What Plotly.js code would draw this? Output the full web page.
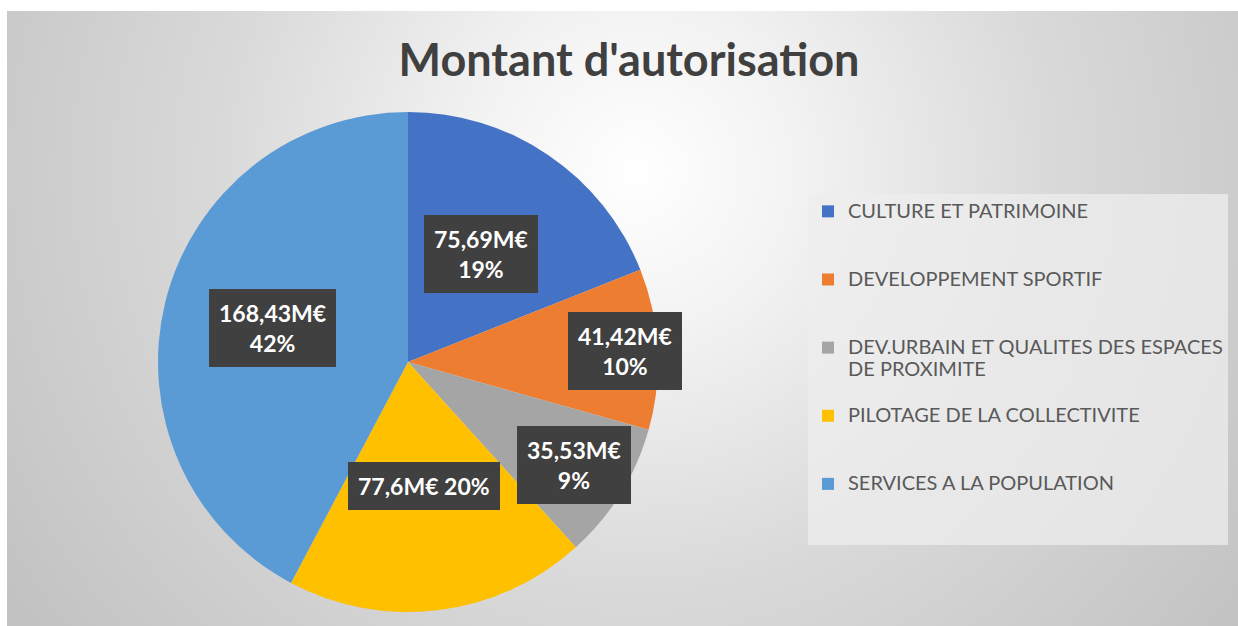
<!DOCTYPE html>
<html>
<head>
<meta charset="utf-8">
<script src="https://cdn.plot.ly/plotly-3.0.1.min.js"></script>
<style>html,body{margin:0;padding:0;background:#fff;}#chart{width:1238px;height:626px;}</style>
</head>
<body>
<div id="chart"></div>
<script>
// ---- data ----
const categories = [
  "CULTURE ET PATRIMOINE",
  "DEVELOPPEMENT SPORTIF",
  "DEV.URBAIN ET QUALITES DES ESPACES<br>DE PROXIMITE",
  "PILOTAGE DE LA COLLECTIVITE",
  "SERVICES A LA POPULATION"
];
const amounts = [75.69, 41.42, 35.53, 77.6, 168.43];   // M€
const percents = [19, 10, 9, 20, 42];                   // as printed
const labelSeparators = ["<br>", "<br>", "<br>", " ", "<br>"];

// ---- style ----
const colors = ["#4472C4", "#ED7D31", "#A5A5A5", "#FFC000", "#5B9BD5"];
const labelRadius = [0.52, 0.87, 0.78, 0.50, 0.56];
const W = 1238, H = 626;
const pieCx = 408, pieCy = 362, pieR = 250;

const total = amounts.reduce((a, b) => a + b, 0);

// legend labels: one span per line, padded to three lines for spacing
const legendLabels = categories.map(c => {
  const lines = c.split("<br>").map(l => '<span style="font-size:20px">' + l + '</span>');
  while (lines.length < 3) lines.push(" ");
  return lines.join("<br>");
});

// data label annotations at each slice's mid angle
let cum = 0;
const annotations = amounts.map((v, i) => {
  const mid = (cum + v / 2) / total;
  cum += v;
  const th = 2 * Math.PI * mid;
  const px = pieCx + labelRadius[i] * pieR * Math.sin(th);
  const py = pieCy - labelRadius[i] * pieR * Math.cos(th);
  return {
    x: px / W, y: 1 - py / H, xref: "paper", yref: "paper",
    xanchor: "center", yanchor: "middle", showarrow: false,
    text: String(v).replace(".", ",") + "M€" + labelSeparators[i] + percents[i] + "%",
    font: {family: "Lato, sans-serif", size: 23, color: "#ffffff", weight: "bold"},
    bgcolor: "#404040", bordercolor: "#404040", borderwidth: 1, borderpad: 9,
    align: "center"
  };
});

const bgSvg =
  '<svg xmlns="http://www.w3.org/2000/svg" width="1231" height="615" viewBox="0 0 1231 615" preserveAspectRatio="none">' +
  '<defs><radialGradient id="g" gradientUnits="userSpaceOnUse" cx="630" cy="160" r="760">' +
  '<stop offset="0" stop-color="#ffffff"/><stop offset="0.22" stop-color="#f2f2f2"/>' +
  '<stop offset="0.55" stop-color="#d9d9d9"/><stop offset="1" stop-color="#c2c2c2"/>' +
  '</radialGradient></defs><rect x="0" y="0" width="1231" height="615" fill="url(#g)"/></svg>';

const trace = {
  type: "pie",
  labels: legendLabels,
  values: amounts,
  sort: false,
  direction: "clockwise",
  rotation: 0,
  textinfo: "none",
  hovertemplate: "%{label}<br>%{value} M€<extra></extra>",
  marker: {colors: colors, line: {width: 0}},
  domain: {
    x: [(pieCx - pieR) / W, (pieCx + pieR) / W],
    y: [1 - (pieCy + pieR) / H, 1 - (pieCy - pieR) / H]
  },
  showlegend: true
};

const layout = {
  width: W, height: H,
  margin: {l: 0, r: 0, t: 0, b: 0},
  paper_bgcolor: "#ffffff",
  title: {
    text: "Montant d'autorisation",
    x: 629 / W, xanchor: "center",
    y: 1 - 60 / H, yanchor: "middle",
    font: {family: "Lato, sans-serif", size: 45, color: "#404040", weight: "bold"}
  },
  legend: {
    x: 808 / W, xanchor: "left",
    y: 1 - 194 / H, yanchor: "top",
    bgcolor: "rgba(238,238,238,0.75)",
    borderwidth: 0,
    valign: "top",
    font: {family: "Lato, sans-serif", size: 16.7, color: "#595959"}
  },
  images: [{
    source: "data:image/svg+xml;charset=utf-8," + encodeURIComponent(bgSvg),
    xref: "paper", yref: "paper",
    x: 7 / W, y: 1 - 11 / H, sizex: (W - 7) / W, sizey: (H - 11) / H,
    xanchor: "left", yanchor: "top", sizing: "stretch", layer: "below"
  }],
  annotations: annotations
};

Plotly.newPlot("chart", [trace], layout, {displayModeBar: false, responsive: false});
</script>
</body>
</html>
